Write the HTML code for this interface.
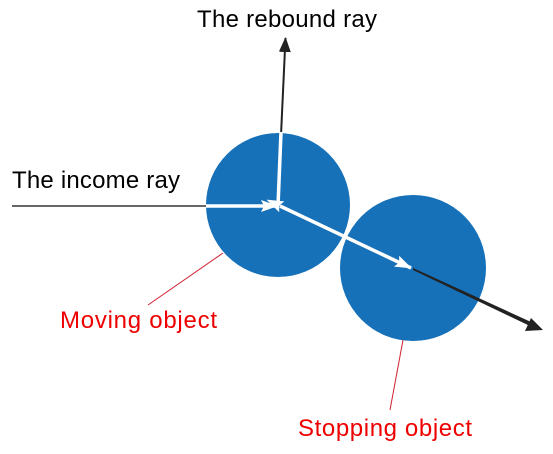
<!DOCTYPE html>
<html><head><meta charset="utf-8"><style>
html,body{margin:0;padding:0;background:#fff;}
svg{display:block;font-family:"Liberation Sans",sans-serif;}
</style></head><body>
<svg width="553" height="454" viewBox="0 0 553 454">
<defs>
<marker id="wh" markerWidth="18" markerHeight="14" refX="16" refY="7" orient="auto" markerUnits="userSpaceOnUse"><path d="M0,1 L17,7 L0,13 L3,7 Z" fill="#fff"/></marker>
<marker id="whs" markerWidth="18" markerHeight="14" refX="2" refY="7" orient="auto-start-reverse" markerUnits="userSpaceOnUse"><path d="M0,1 L17,7 L0,13 L3,7 Z" fill="#fff"/></marker>
<marker id="bk" markerWidth="16" markerHeight="14" refX="14" refY="7" orient="auto" markerUnits="userSpaceOnUse"><path d="M0,1 L15,7 L0,13 Z" fill="#222"/></marker>
</defs>
<line x1="12" y1="206" x2="206" y2="206" stroke="#333" stroke-width="1.5"/>
<line x1="281" y1="135" x2="285.5" y2="38" stroke="#222" stroke-width="2" marker-end="url(#bk)"/>
<circle cx="278" cy="205" r="72" fill="#1671b9"/>
<circle cx="413" cy="268" r="73" fill="#1671b9"/>
<polygon points="413,268 531,322 530,326 413,270" fill="#222"/>
<polygon points="543,330 525,331 531,318" fill="#222"/>
<line x1="278" y1="206" x2="281" y2="132" stroke="#fff" stroke-width="3.5"/>
<line x1="206" y1="206" x2="277" y2="206" stroke="#fff" stroke-width="3.5" marker-end="url(#wh)"/>
<line x1="280" y1="206" x2="411" y2="268" stroke="#fff" stroke-width="3.5" marker-start="url(#whs)" marker-end="url(#wh)"/>
<line x1="223" y1="253" x2="148" y2="305" stroke="#d02030" stroke-width="1"/>
<line x1="403" y1="340" x2="390" y2="410" stroke="#d02030" stroke-width="1"/>
<text x="197" y="27" font-size="24" textLength="180" fill="#000">The rebound ray</text>
<text x="12" y="188" font-size="24" textLength="168" fill="#000">The income ray</text>
<text x="60" y="328" font-size="24" textLength="157" fill="#ee0000">Moving object</text>
<text x="298" y="436" font-size="24" textLength="174" fill="#ee0000">Stopping object</text>
</svg>
</body></html>
